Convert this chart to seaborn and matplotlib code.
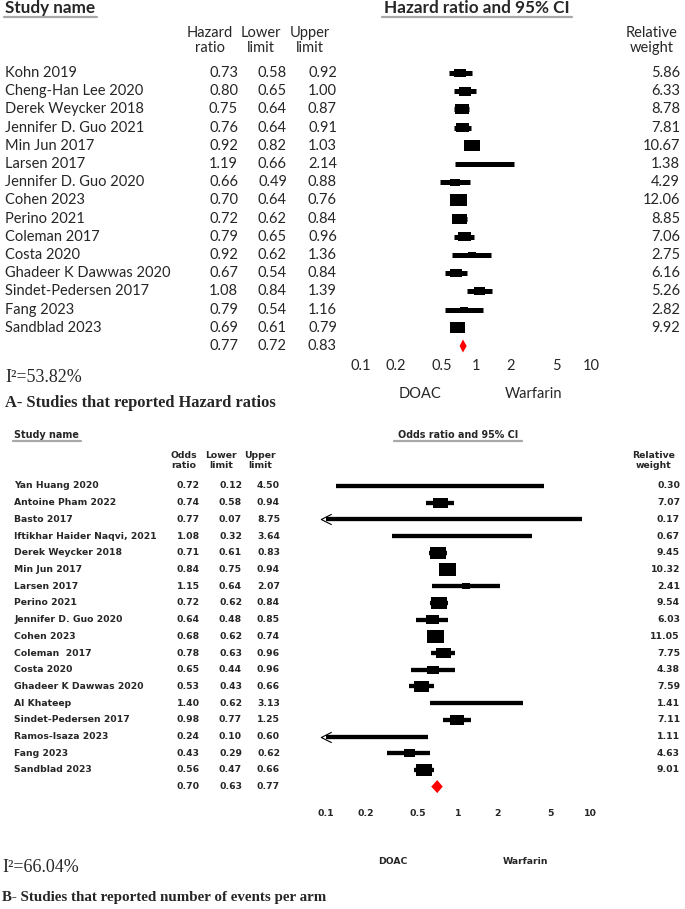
import numpy as np
import pandas as pd
import matplotlib
matplotlib.use("Agg")
import matplotlib.pyplot as plt
import matplotlib.transforms as mtransforms
from matplotlib.path import Path
from matplotlib.lines import Line2D
import seaborn as sns

# ---------------- Data: panel A (hazard ratios) ----------------
a_studies = ["Kohn 2019", "Cheng-Han Lee 2020", "Derek Weycker 2018", "Jennifer D. Guo 2021",
             "Min Jun 2017", "Larsen 2017", "Jennifer D. Guo 2020", "Cohen 2023", "Perino 2021",
             "Coleman 2017", "Costa 2020", "Ghadeer K Dawwas 2020", "Sindet-Pedersen 2017",
             "Fang 2023", "Sandblad 2023"]
a_est = [0.73, 0.80, 0.75, 0.76, 0.92, 1.19, 0.66, 0.70, 0.72, 0.79, 0.92, 0.67, 1.08, 0.79, 0.69]
a_lo = [0.58, 0.65, 0.64, 0.64, 0.82, 0.66, 0.49, 0.64, 0.62, 0.65, 0.62, 0.54, 0.84, 0.54, 0.61]
a_hi = [0.92, 1.00, 0.87, 0.91, 1.03, 2.14, 0.88, 0.76, 0.84, 0.96, 1.36, 0.84, 1.39, 1.16, 0.79]
a_w = [5.86, 6.33, 8.78, 7.81, 10.67, 1.38, 4.29, 12.06, 8.85, 7.06, 2.75, 6.16, 5.26, 2.82, 9.92]
a_summary = [0.77, 0.72, 0.83]
a_i2 = "I\u00b2=53.82%"
a_caption = "A- Studies that reported Hazard ratios"
a_headers = [["Hazard", "ratio"], ["Lower", "limit"], ["Upper", "limit"]]
a_title = "Hazard ratio and 95% CI"

# ---------------- Data: panel B (odds ratios) ----------------
b_studies = ["Yan Huang 2020", "Antoine Pham 2022", "Basto 2017", "Iftikhar Haider Naqvi, 2021",
             "Derek Weycker 2018", "Min Jun 2017", "Larsen 2017", "Perino 2021",
             "Jennifer D. Guo 2020", "Cohen 2023", "Coleman  2017", "Costa 2020",
             "Ghadeer K Dawwas 2020", "Al Khateep", "Sindet-Pedersen 2017", "Ramos-Isaza 2023",
             "Fang 2023", "Sandblad 2023"]
b_est = [0.72, 0.74, 0.77, 1.08, 0.71, 0.84, 1.15, 0.72, 0.64, 0.68, 0.78, 0.65, 0.53, 1.40, 0.98, 0.24, 0.43, 0.56]
b_lo = [0.12, 0.58, 0.07, 0.32, 0.61, 0.75, 0.64, 0.62, 0.48, 0.62, 0.63, 0.44, 0.43, 0.62, 0.77, 0.10, 0.29, 0.47]
b_hi = [4.50, 0.94, 8.75, 3.64, 0.83, 0.94, 2.07, 0.84, 0.85, 0.74, 0.96, 0.96, 0.66, 3.13, 1.25, 0.60, 0.62, 0.66]
b_w = [0.30, 7.07, 0.17, 0.67, 9.45, 10.32, 2.41, 9.54, 6.03, 11.05, 7.75, 4.38, 7.59, 1.41, 7.11, 1.11, 4.63, 9.01]
b_summary = [0.70, 0.63, 0.77]
b_i2 = "I\u00b2=66.04%"
b_caption = "B- Studies that reported number of events per arm"
b_headers = [["Odds", "ratio"], ["Lower", "limit"], ["Upper", "limit"]]
b_title = "Odds ratio and 95% CI"

tick_values = [0.1, 0.2, 0.5, 1, 2, 5, 10]
tick_labels = ["0.1", "0.2", "0.5", "1", "2", "5", "10"]
favours = ["DOAC", "Warfarin"]

# ---------------- Figure setup ----------------
sns.set_style("white")
plt.rcParams['font.family'] = ['DejaVu Sans']

W, H = 685, 909
fig = plt.figure(figsize=(W / 100, H / 100), dpi=100)


def fx(px):
    return px / W


def fy(py):
    return 1 - py / H


RECT = Path([(-0.7, -0.5), (0.7, -0.5), (0.7, 0.5), (-0.7, 0.5), (-0.7, -0.5)],
            [Path.MOVETO, Path.LINETO, Path.LINETO, Path.LINETO, Path.CLOSEPOLY])
CHEV = Path([(0.5, 0.5), (-0.5, 0.0), (0.5, -0.5)], [Path.MOVETO, Path.LINETO, Path.LINETO])


def underline(x1, x2, y):
    fig.add_artist(Line2D([fx(x1), fx(x2)], [fy(y), fy(y)], transform=fig.transFigure,
                          color="#a8a8a8", lw=1.6))


def forest(studies, est, lo, hi, w, summary, cfg):
    n = len(studies)
    y0, dy = cfg['row0'], cfg['dy']
    top = y0 - 0.5 * dy
    bottom = y0 + (n + 0.5) * dy
    ax = fig.add_axes([fx(cfg['x01']), fy(bottom), fx(cfg['x10']) - fx(cfg['x01']), (bottom - top) / H])
    ax.set_xscale('log')
    ax.set_xlim(0.1, 10)
    ax.set_ylim(n + 0.5, -0.5)
    df = pd.DataFrame({'est': est, 'lo': lo, 'hi': hi, 'w': w, 'row': np.arange(n)})
    ax.hlines(df['row'], df['lo'].clip(0.1, 10), df['hi'].clip(0.1, 10), color='black',
              lw=cfg['lw'], zorder=2)
    la = df[df['lo'] <= 0.1]
    if len(la):
        ax.plot(np.full(len(la), 0.1), la['row'], ls='none', marker=CHEV, ms=7.5,
                mfc='none', mec='black', mew=0.8, clip_on=False, zorder=3)
    c = cfg['c']
    wmin, wmax = float(df['w'].min()), float(df['w'].max())
    sns.scatterplot(data=df, x='est', y='row', size='w', sizes=(c * wmin, c * wmax),
                    size_norm=(wmin, wmax), marker=RECT, color='black', edgecolor='none',
                    linewidth=0, legend=False, ax=ax, zorder=3)
    # summary diamond
    s_est, s_lo, s_hi = summary
    h = cfg['dh'] / dy
    ax.fill([s_lo, s_est, s_hi, s_est], [n, n - h, n, n + h], color='#ff0000', lw=0, zorder=3)

    ax.set_xticks(tick_values)
    ax.set_xticklabels(tick_labels)
    ax.minorticks_off()
    ax.tick_params(axis='x', length=0, pad=cfg['pad'])
    for lab in ax.get_xticklabels():
        lab.set_fontfamily(cfg['font'])
        lab.set_fontsize(cfg['fs'])
        lab.set_fontweight(cfg['weight'])
    ax.set_yticks([])
    ax.set_xlabel('')
    ax.set_ylabel('')
    for sp in ax.spines.values():
        sp.set_visible(False)
    ax.patch.set_visible(False)
    ax.grid(False)

    tr = mtransforms.blended_transform_factory(fig.transFigure, ax.transData)
    tk = dict(fontfamily=cfg['font'], fontsize=cfg['fs'], fontweight=cfg['weight'],
              transform=tr, va='center', clip_on=False)
    for i in range(n):
        ax.text(fx(cfg['name_x']), i, studies[i], ha='left', **tk)
        for col, vals in zip(cfg['val_x'], (est, lo, hi)):
            ax.text(fx(col), i, f"{vals[i]:.2f}", ha='right', **tk)
        ax.text(fx(cfg['wt_x']), i, f"{w[i]:.2f}", ha='right', **tk)
    for col, v in zip(cfg['val_x'], summary):
        ax.text(fx(col), n, f"{v:.2f}", ha='right', **tk)
    return ax


def panel_text(cfg, headers, title, i2, caption):
    ft = dict(fontfamily=cfg['font'], fontsize=cfg['fs'], fontweight=cfg['weight'], va='center')
    fig.text(fx(cfg['name_x']), fy(cfg['title_y']), "Study name", ha='left',
             fontfamily=cfg['font'], fontsize=cfg['title_fs'], fontweight='bold', va='center')
    underline(cfg['name_x'] - 1, cfg['name_x'] + cfg['name_ul'], cfg['title_y'] + cfg['ul_dy'])
    fig.text(fx(cfg['ci_title_x']), fy(cfg['title_y']), title, ha='center',
             fontfamily=cfg['font'], fontsize=cfg['title_fs'], fontweight='bold', va='center')
    underline(cfg['ci_title_x'] - cfg['ci_ul'] / 2, cfg['ci_title_x'] + cfg['ci_ul'] / 2,
              cfg['title_y'] + cfg['ul_dy'])
    for hx, (l1, l2) in zip(cfg['hdr_x'], headers):
        fig.text(fx(hx), fy(cfg['hdr_y'][0]), l1, ha='center', **ft)
        fig.text(fx(hx), fy(cfg['hdr_y'][1]), l2, ha='center', **ft)
    fig.text(fx(cfg['wt_hdr_x']), fy(cfg['hdr_y'][0]), "Relative", ha='center', **ft)
    fig.text(fx(cfg['wt_hdr_x']), fy(cfg['hdr_y'][1]), "weight", ha='center', **ft)
    fig.text(fx(cfg['fav_x'][0]), fy(cfg['fav_y']), favours[0], ha='center', **ft)
    fig.text(fx(cfg['fav_x'][1]), fy(cfg['fav_y']), favours[1], ha='center', **ft)
    fig.text(fx(cfg['i2_x']), fy(cfg['i2_y']), i2, ha='left', va='center',
             fontfamily='Liberation Serif', fontsize=13)
    fig.text(fx(cfg['i2_x']), fy(cfg['cap_y']), caption, ha='left', va='center',
             fontfamily='Liberation Serif', fontsize=cfg['cap_fs'], fontweight='bold')


cfg_a = dict(row0=73, dy=18.2, x01=361, x10=591, lw=3.6, c=11.9, dh=6.5, pad=3,
             font='Lato', fs=10.5, weight='normal', name_x=5, val_x=[238, 287, 337], wt_x=680,
             title_y=8, title_fs=12.3, name_ul=92, ul_dy=9, ci_title_x=477, ci_ul=190,
             hdr_x=[210, 261, 310], hdr_y=[33, 48], wt_hdr_x=652, fav_x=[420, 534], fav_y=394,
             i2_x=5, i2_y=378, cap_y=403, cap_fs=11.8)
cfg_b = dict(row0=486, dy=16.7, x01=325.5, x10=590, lw=3.1, c=14.6, dh=6.5, pad=10,
             font='DejaVu Sans', fs=6.7, weight='bold', name_x=14, val_x=[200, 242, 280], wt_x=680,
             title_y=435, title_fs=6.9, name_ul=67, ul_dy=6, ci_title_x=458, ci_ul=128,
             hdr_x=[184, 221, 260], hdr_y=[456, 465], wt_hdr_x=654, fav_x=[393, 525], fav_y=862,
             i2_x=2, i2_y=867, cap_y=898, cap_fs=10.8)

forest(a_studies, a_est, a_lo, a_hi, a_w, a_summary, cfg_a)
panel_text(cfg_a, a_headers, a_title, a_i2, a_caption)
forest(b_studies, b_est, b_lo, b_hi, b_w, b_summary, cfg_b)
panel_text(cfg_b, b_headers, b_title, b_i2, b_caption)

fig.savefig("out.png", dpi=100, facecolor='white')
